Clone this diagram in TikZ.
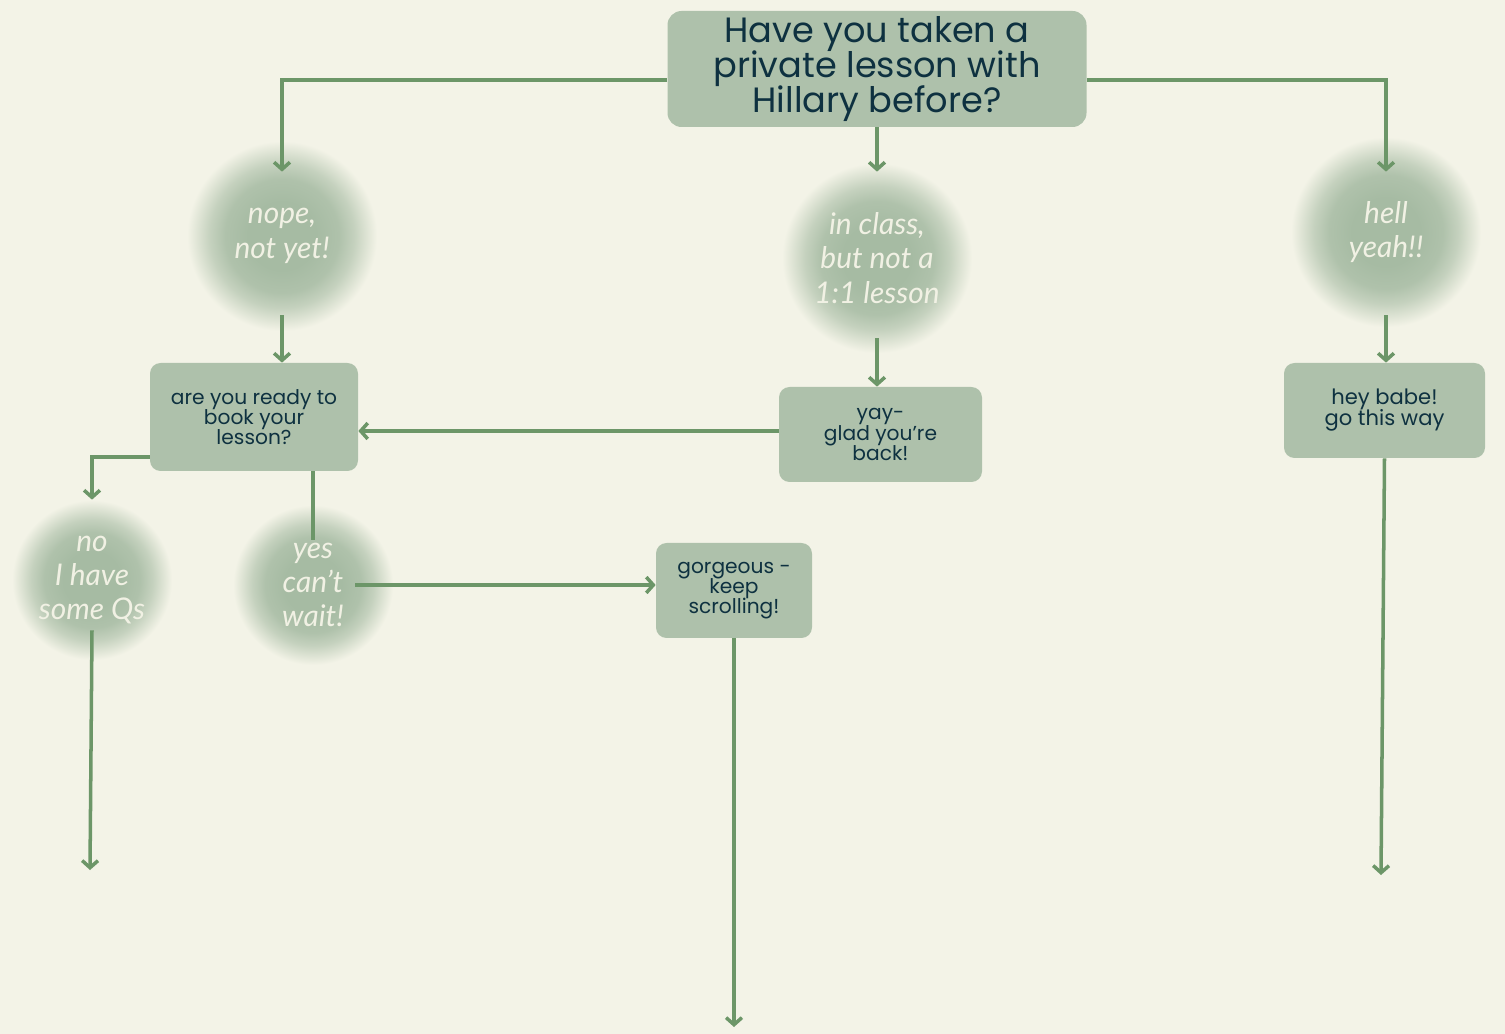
\documentclass[tikz,border=0pt]{standalone}
\usepackage{fontspec}
\usepackage{xcolor}
\usepackage{tikz}
\usetikzlibrary{arrows.meta,positioning,calc}
\newfontfamily\popfont{Poppins}
\newfontfamily\handfont{Lato}
\newcommand\tightlines{\lineskiplimit-20pt\lineskip0pt\relax}
\definecolor{Cream}{HTML}{F3F3E7}
\definecolor{Sage}{HTML}{AEC1AB}
\definecolor{BlobC}{HTML}{A6BBA3}
\definecolor{Ink}{HTML}{0E3140}
\definecolor{Stem}{HTML}{6C9668}
\definecolor{Chalk}{HTML}{F1F1E4}
\colorlet{BlobA}{BlobC!88!Cream}
\colorlet{BlobB}{BlobC!60!Cream}
\colorlet{BlobD}{BlobC!25!Cream}
\pgfdeclareradialshading{blobshade}{\pgfpointorigin}{color(0bp)=(BlobC); color(9bp)=(BlobC);
  color(15bp)=(BlobA); color(19bp)=(BlobB); color(22.5bp)=(BlobD); color(25bp)=(Cream); color(50bp)=(Cream)}

\begin{document}
\begin{tikzpicture}[
  card/.style={rectangle, rounded corners=6pt, fill=Sage, text=Ink, align=center,
               inner sep=0pt, font=\popfont\fontsize{11.5}{11.5}\selectfont\tightlines},
  blob/.style={circle, shading=blobshade, minimum size=3.8cm, inner sep=0pt,
               text=Chalk, align=center, font=\handfont\itshape\fontsize{17}{19.5}\selectfont},
  arr/.style={-{Straight Barb[length=4pt,width=9pt]}, line width=2pt, draw=Stem},
  stem/.style={line width=2pt, draw=Stem}
]
\fill[Cream] (0,0) rectangle (30.1,-20.68);

\node[card, minimum width=8.38cm, minimum height=2.32cm, rounded corners=8pt,
      font=\popfont\fontsize{20}{19.8}\selectfont\tightlines] (q) at (17.54,-1.38)
      {Have you taken a\\private lesson with\\Hillary before?};

\node[blob] (nope)    at (5.64,-4.72)  {nope,\\not yet!};
\node[blob] (inclass) at (17.54,-5.16) {in class,\\but not a\\1:1 lesson};
\node[blob] (hell)    at (27.72,-4.64) {hell\\yeah!!};

\node[card, minimum width=4.16cm, minimum height=2.16cm] (ready) at (5.08,-8.34)
      {are you ready to\\book your\\lesson?};
\node[card, minimum width=4.06cm, minimum height=1.9cm] (yay) at (17.61,-8.69)
      {yay-\\glad you’re\\back!};
\node[card, minimum width=4.02cm, minimum height=1.9cm,
      font=\popfont\fontsize{12}{12}\selectfont\tightlines] (hey) at (27.69,-8.21)
      {hey babe!\\go this way};

\node[blob, minimum size=3.2cm] (no)  at (1.84,-11.6) {no\\I have\\some Qs};
\node[blob, minimum size=3.2cm] (yes) at (6.26,-11.7) {yes\\can’t\\wait!};
\node[card, minimum width=3.12cm, minimum height=1.9cm] (gorg) at (14.68,-11.81)
      {gorgeous -\\keep\\scrolling!};

\coordinate (noend)   at (1.8,-17.4);
\coordinate (gorgend) at (14.68,-20.54);
\coordinate (heyend)  at (27.62,-17.5);

\draw[arr] ([yshift=-0.22cm]q.west) -| ([yshift=-0.62cm]nope.north);
\draw[arr] (q.south) -- ([yshift=-0.18cm]inclass.north);
\draw[arr] ([yshift=-0.22cm]q.east) -| ([yshift=-0.7cm]hell.north);

\draw[arr] ([yshift=0.32cm]nope.south) -- (nope.south |- ready.north);
\draw[arr] ([yshift=0.3cm]inclass.south) -- (inclass.south |- yay.north);
\draw[arr] ([yshift=0.24cm]hell.south) -- (hell.south |- hey.north);

\draw[arr] ([yshift=0.07cm]yay.west) -- ([yshift=0.07cm]yay.west -| ready.east);
\draw[arr] ([yshift=-0.8cm]ready.west) -| (no.north);
\draw[stem] (ready.south -| yes.north) -- ([yshift=-0.7cm]yes.north);
\draw[arr] ([xshift=-0.76cm]yes.east) -- (yes.east -| gorg.west);

\draw[arr] ([yshift=0.6cm]no.south) -- (noend);
\draw[arr] (gorg.south) -- (gorgend);
\draw[arr] (hey.south) -- (heyend);
\end{tikzpicture}
\end{document}
